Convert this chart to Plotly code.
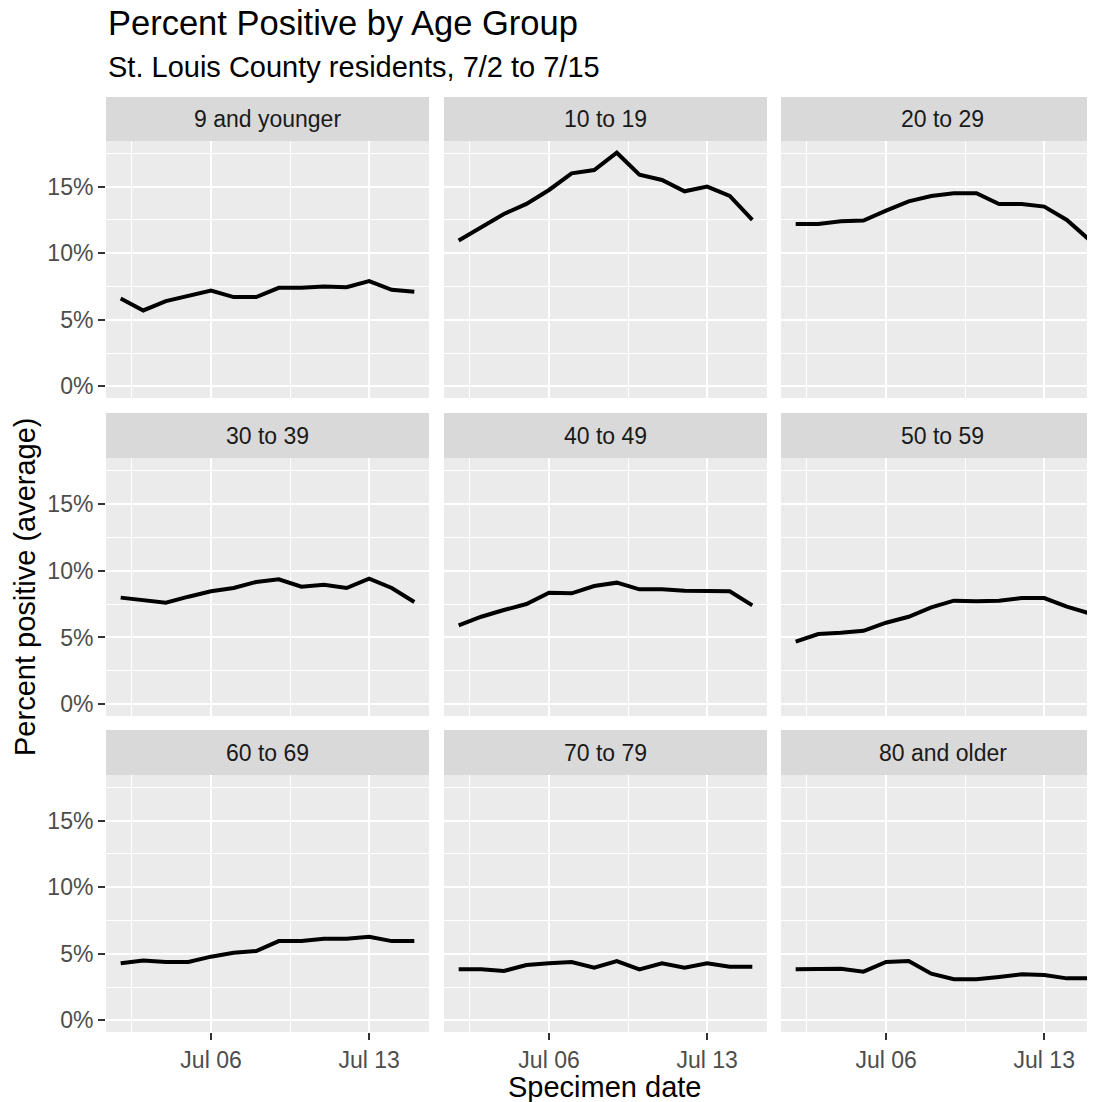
import plotly.graph_objects as go

# data (percent positive, 7-day average)
dates = ["2020-07-02", "2020-07-03", "2020-07-04", "2020-07-05", "2020-07-06",
         "2020-07-07", "2020-07-08", "2020-07-09", "2020-07-10", "2020-07-11",
         "2020-07-12", "2020-07-13", "2020-07-14", "2020-07-15"]

age_groups = ["9 and younger", "10 to 19", "20 to 29",
              "30 to 39", "40 to 49", "50 to 59",
              "60 to 69", "70 to 79", "80 and older"]

age_9_under = [6.6, 5.7, 6.4, 6.8, 7.2, 6.7, 6.7, 7.4, 7.4, 7.5, 7.45, 7.9, 7.25, 7.1]
age_10_19 = [10.95, 11.95, 12.95, 13.7, 14.75, 16.0, 16.25, 17.55, 15.9, 15.5, 14.65, 15.0, 14.3, 12.5]
age_20_29 = [12.2, 12.2, 12.4, 12.45, 13.2, 13.9, 14.3, 14.5, 14.5, 13.7, 13.7, 13.5, 12.5, 11.0]
age_30_39 = [7.98, 7.8, 7.6, 8.05, 8.45, 8.7, 9.15, 9.35, 8.8, 8.95, 8.7, 9.4, 8.7, 7.65]
age_40_49 = [5.9, 6.55, 7.05, 7.5, 8.35, 8.3, 8.85, 9.1, 8.6, 8.6, 8.5, 8.5, 8.45, 7.4]
age_50_59 = [4.68, 5.25, 5.35, 5.5, 6.1, 6.55, 7.25, 7.75, 7.7, 7.75, 7.95, 7.95, 7.3, 6.8]
age_60_69 = [4.28, 4.5, 4.38, 4.38, 4.78, 5.08, 5.2, 5.95, 5.95, 6.12, 6.12, 6.28, 5.95, 5.95]
age_70_79 = [3.83, 3.83, 3.7, 4.15, 4.28, 4.38, 3.95, 4.45, 3.83, 4.28, 3.95, 4.28, 4.03, 4.03]
age_80_over = [3.83, 3.83, 3.88, 3.65, 4.38, 4.45, 3.5, 3.08, 3.08, 3.25, 3.45, 3.4, 3.15, 3.15]

series = [age_9_under, age_10_19, age_20_29,
          age_30_39, age_40_49, age_50_59,
          age_60_69, age_70_79, age_80_over]

y_ticks = [0, 5, 10, 15]
y_tick_labels = ["0%", "5%", "10%", "15%"]
y_minor = [2.5, 7.5, 12.5, 17.5]
x_ticks = ["2020-07-06", "2020-07-13"]
x_minor = ["2020-07-02 12:00", "2020-07-09 12:00"]

# the page body has an 8px margin, so the figure is drawn 8px in from the corner
OFF = 8
W, H = 1095 - OFF, 1102 - OFF
FONT = "Liberation Sans, Arial, sans-serif"

def px_x(p):
    return (p - OFF) / W

def px_y(p):
    return 1 - (p - OFF) / H

# panel pixel boxes in page pixels (ggplot facet layout)
col_px = [(106, 429), (444, 767), (781, 1095)]
row_px = [(141, 398), (458, 716), (775, 1032)]
strip_px = [(97, 141), (413, 458), (730, 775)]

x_range_full = ["2020-07-01 08:24", "2020-07-15 15:36"]
x_range_cut = ["2020-07-01 08:24", "2020-07-15 05:55"]  # right column is cut off
y_range = [-0.88, 18.43]

fig = go.Figure()
shapes = []
annotations = []

for i, (name, vals) in enumerate(zip(age_groups, series)):
    r, c = divmod(i, 3)
    n = i + 1
    xa = "x" if n == 1 else f"x{n}"
    ya = "y" if n == 1 else f"y{n}"

    fig.add_trace(go.Scatter(
        x=dates, y=vals, mode="lines", name=name,
        line=dict(color="black", width=4),
        xaxis=xa, yaxis=ya, showlegend=False
    ))

    x0, x1 = col_px[c]
    y0, y1 = row_px[r]
    fig.layout[f"xaxis{n}" if n > 1 else "xaxis"] = dict(
        domain=[px_x(x0), min(px_x(x1), 1.0)], anchor=ya, type="date",
        range=x_range_cut if c == 2 else x_range_full,
        tickvals=x_ticks, tickformat="%b %d",
        showticklabels=(r == 2), ticks="outside" if r == 2 else "",
        ticklen=7, tickwidth=1.5, tickcolor="#333333",
        tickfont=dict(family=FONT, size=23, color="#4D4D4D"),
        showgrid=True, gridcolor="white", gridwidth=2,
        minor=dict(tickvals=x_minor, showgrid=True, gridcolor="white", gridwidth=1, ticks=""),
        zeroline=False, showline=False, fixedrange=True,
    )
    fig.layout[f"yaxis{n}" if n > 1 else "yaxis"] = dict(
        domain=[px_y(y1), px_y(y0)], anchor=xa,
        range=y_range, tickvals=y_ticks, ticktext=y_tick_labels,
        showticklabels=(c == 0), ticks="outside" if c == 0 else "",
        ticklen=7, tickwidth=1.5, tickcolor="#333333",
        tickfont=dict(family=FONT, size=23, color="#4D4D4D"),
        showgrid=True, gridcolor="white", gridwidth=2,
        minor=dict(tickvals=y_minor, showgrid=True, gridcolor="white", gridwidth=1, ticks=""),
        zeroline=False, showline=False, fixedrange=True,
    )

    # panel background
    shapes.append(dict(type="rect", xref="paper", yref="paper", layer="below",
                       x0=px_x(x0), x1=min(px_x(x1), 1.0), y0=px_y(y1), y1=px_y(y0),
                       fillcolor="#EBEBEB", line=dict(width=0)))
    # strip
    s0, s1 = strip_px[r]
    shapes.append(dict(type="rect", xref="paper", yref="paper", layer="below",
                       x0=px_x(x0), x1=min(px_x(x1), 1.0), y0=px_y(s1), y1=px_y(s0),
                       fillcolor="#D9D9D9", line=dict(width=0)))
    annotations.append(dict(text=name, xref="paper", yref="paper",
                            x=px_x(x0 + 161.5), y=px_y((s0 + s1) / 2),
                            showarrow=False, xanchor="center", yanchor="middle",
                            font=dict(family=FONT, size=23, color="#1A1A1A")))

annotations += [
    dict(text="Percent Positive by Age Group", xref="paper", yref="paper",
         x=px_x(106), y=px_y(23), xanchor="left", yanchor="middle", showarrow=False,
         font=dict(family=FONT, size=34.5, color="black")),
    dict(text="St. Louis County residents, 7/2 to 7/15", xref="paper", yref="paper",
         x=px_x(106), y=px_y(67), xanchor="left", yanchor="middle", showarrow=False,
         font=dict(family=FONT, size=29, color="black")),
    dict(text="Specimen date", xref="paper", yref="paper",
         x=px_x(605), y=px_y(1087), xanchor="center", yanchor="middle", showarrow=False,
         font=dict(family=FONT, size=29, color="black")),
    dict(text="Percent positive (average)", xref="paper", yref="paper",
         x=px_x(25), y=px_y(587), xanchor="center", yanchor="middle", showarrow=False,
         textangle=-90, font=dict(family=FONT, size=29, color="black")),
]

fig.update_layout(
    width=W, height=H,
    margin=dict(l=0, r=0, t=0, b=0),
    paper_bgcolor="white", plot_bgcolor="rgba(0,0,0,0)",
    shapes=shapes, annotations=annotations,
    showlegend=False,
)

fig.write_html("out.html")
